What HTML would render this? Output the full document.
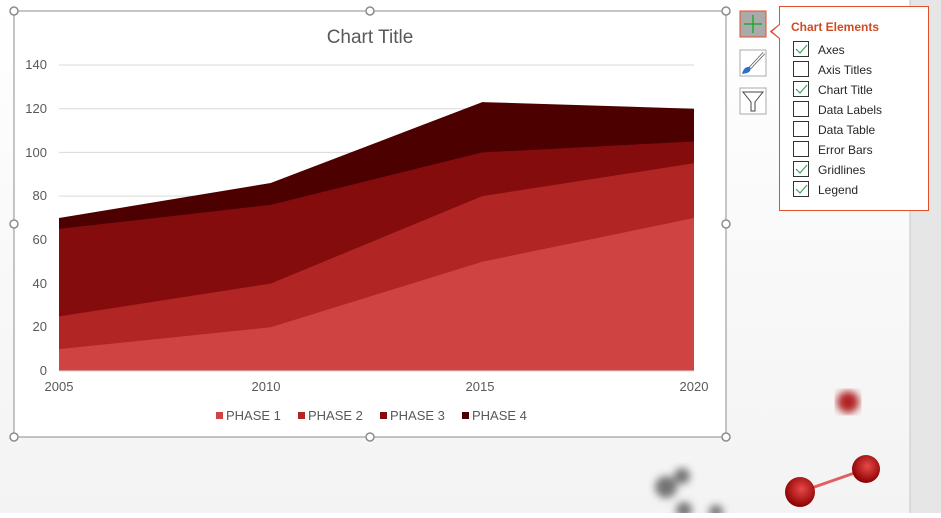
<!DOCTYPE html><html><head><style>body{margin:0;width:941px;height:513px;overflow:hidden;background:#fff;font-family:"Liberation Sans",sans-serif}</style></head><body>
<svg width="941" height="513" xmlns="http://www.w3.org/2000/svg" font-family="Liberation Sans, sans-serif">
<defs>
<linearGradient id="bg" x1="0" y1="0" x2="0" y2="1"><stop offset="0" stop-color="#fff"/><stop offset="1" stop-color="#f3f3f3"/></linearGradient>
<radialGradient id="ball" cx="0.55" cy="0.4" r="0.6"><stop offset="0" stop-color="#e84848"/><stop offset="1" stop-color="#8a0000"/></radialGradient>
<filter id="bl"><feGaussianBlur stdDeviation="4"/></filter>
</defs>
<rect width="910" height="513" fill="url(#bg)"/>
<rect x="910" width="31" height="513" fill="#e6e6e6"/>
<line x1="910" y1="0" x2="910" y2="513" stroke="#c8c8c8"/>
<!-- decorations -->
<circle cx="848" cy="402" r="11" fill="#b02020" filter="url(#bl)"/>
<line x1="800" y1="492" x2="866" y2="469" stroke="#e06060" stroke-width="3"/>
<circle cx="800" cy="492" r="15" fill="url(#ball)"/>
<circle cx="866" cy="469" r="14" fill="url(#ball)"/>
<g fill="#666" filter="url(#bl)" opacity="0.9"><circle cx="666" cy="487" r="11"/><circle cx="682" cy="476" r="8"/><circle cx="684" cy="510" r="8"/><circle cx="716" cy="512" r="7"/></g>
<!-- chart frame -->
<rect x="14" y="11" width="712" height="426" fill="#fff" stroke="#8c8c8c"/>
<text x="370" y="43" text-anchor="middle" font-size="19" fill="#595959">Chart Title</text>
<g stroke="#d9d9d9"><line x1="59" x2="694" y1="65" y2="65"/><line x1="59" x2="694" y1="108.7" y2="108.7"/><line x1="59" x2="694" y1="152.4" y2="152.4"/><line x1="59" x2="694" y1="196.1" y2="196.1"/><line x1="59" x2="694" y1="239.8" y2="239.8"/><line x1="59" x2="694" y1="283.6" y2="283.6"/><line x1="59" x2="694" y1="327.3" y2="327.3"/></g>
<polygon fill="#4d0000" points="59,218 270.7,183 482.3,102.1 694,108.7 694,371 59,371"/>
<polygon fill="#850c0c" points="59,228.9 270.7,204.9 482.3,152.4 694,141.5 694,371 59,371"/>
<polygon fill="#b22525" points="59,316.4 270.7,283.6 482.3,196.1 694,163.3 694,371 59,371"/>
<polygon fill="#d04343" points="59,349.1 270.7,327.3 482.3,261.7 694,218 694,371 59,371"/>
<line x1="59" x2="694" y1="371" y2="371" stroke="#d9d9d9"/>
<g font-size="13" fill="#595959" text-anchor="end"><text x="47" y="375">0</text><text x="47" y="331">20</text><text x="47" y="288">40</text><text x="47" y="244">60</text><text x="47" y="200">80</text><text x="47" y="157">100</text><text x="47" y="113">120</text><text x="47" y="69">140</text></g>
<g font-size="13" fill="#595959" text-anchor="middle"><text x="59" y="391">2005</text><text x="266" y="391">2010</text><text x="480" y="391">2015</text><text x="694" y="391">2020</text></g>
<g font-size="13" fill="#595959"><rect x="216" y="412" width="7" height="7" fill="#d04343"/><text x="226" y="420">PHASE 1</text><rect x="298" y="412" width="7" height="7" fill="#b22525"/><text x="308" y="420">PHASE 2</text><rect x="380" y="412" width="7" height="7" fill="#850c0c"/><text x="390" y="420">PHASE 3</text><rect x="462" y="412" width="7" height="7" fill="#4d0000"/><text x="472" y="420">PHASE 4</text></g>
<g fill="#fff" stroke="#8c8c8c" stroke-width="1.5"><circle cx="14" cy="11" r="4"/><circle cx="370" cy="11" r="4"/><circle cx="726" cy="11" r="4"/><circle cx="14" cy="224" r="4"/><circle cx="726" cy="224" r="4"/><circle cx="14" cy="437" r="4"/><circle cx="370" cy="437" r="4"/><circle cx="726" cy="437" r="4"/></g>
<!-- buttons -->
<rect x="740" y="11" width="26" height="26" fill="#aaa" stroke="#e0502a"/>
<path d="M753 15v18M744 24h18" stroke="#22aa33" stroke-width="1.5"/>
<rect x="740" y="50" width="26" height="26" fill="#fff" stroke="#aaa"/>
<path d="M764 53 L750 68" stroke="#555" stroke-width="3"/><path d="M764 53 L750 68" stroke="#fff" stroke-width="1.5"/>
<path d="M742 74 q2-8 8-7 q2 4-3 6z" fill="#2a70c8"/>
<rect x="740" y="88" width="26" height="26" fill="#fff" stroke="#aaa"/>
<path d="M743 92h20l-8 10v9h-4v-9z" fill="#fff" stroke="#444"/>
<!-- panel -->
<path d="M779.5 6.5h149v204h-149v-110 M779.5 6.5v18l-9 7 9 7" fill="#fff" stroke="#e0502a"/>
<path d="M780 7h148v203h-148z" fill="#fff"/>
<path d="M779.5 6.5h149v204h-149v-172l-8-7 8-7z" fill="#fff" stroke="#e0502a"/>
<text x="791" y="31" font-size="12" font-weight="bold" fill="#d04a22">Chart Elements</text>
<g font-size="12" fill="#262626"><text x="818" y="54">Axes</text><text x="818" y="74">Axis Titles</text><text x="818" y="94">Chart Title</text><text x="818" y="114">Data Labels</text><text x="818" y="134">Data Table</text><text x="818" y="154">Error Bars</text><text x="818" y="174">Gridlines</text><text x="818" y="194">Legend</text></g>
<g fill="#fff" stroke="#333"><rect x="793.5" y="41.5" width="15" height="15"/><rect x="793.5" y="61.5" width="15" height="15"/><rect x="793.5" y="81.5" width="15" height="15"/><rect x="793.5" y="101.5" width="15" height="15"/><rect x="793.5" y="121.5" width="15" height="15"/><rect x="793.5" y="141.5" width="15" height="15"/><rect x="793.5" y="161.5" width="15" height="15"/><rect x="793.5" y="181.5" width="15" height="15"/></g>
<g fill="none" stroke="#3aa55a" stroke-width="1.2"><path d="M796 49l4 4 7-8"/><path d="M796 89l4 4 7-8"/><path d="M796 169l4 4 7-8"/><path d="M796 189l4 4 7-8"/></g>
</svg></body></html>
